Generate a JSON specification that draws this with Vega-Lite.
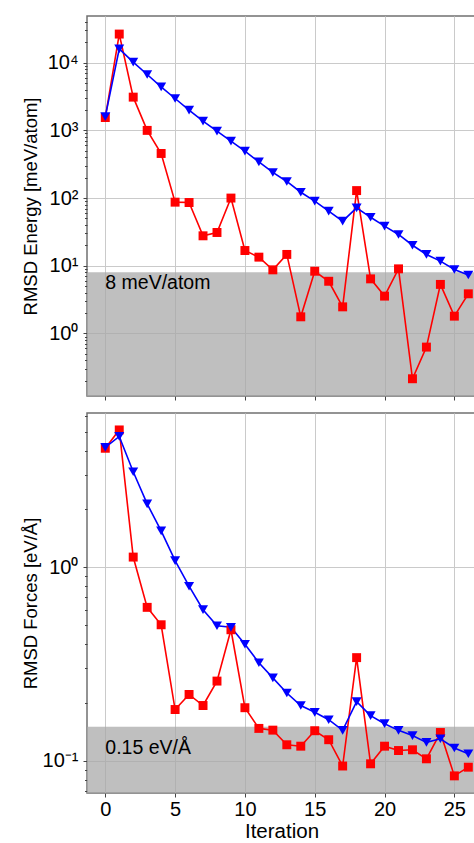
{
  "$schema": "https://vega.github.io/schema/vega-lite/v6.json",
  "padding": {"left": 20, "top": 15, "right": 0, "bottom": 0},
  "spacing": 10,
  "config": {
    "font": "Liberation Sans",
    "view": {"stroke": "#707070", "strokeWidth": 1.5},
    "axis": {
      "domain": false,
      "gridColor": "#cacaca",
      "gridWidth": 1,
      "tickColor": "#444444",
      "labelFont": "Liberation Sans",
      "labelFontSize": 20,
      "labelColor": "#000000",
      "titleFont": "Liberation Sans",
      "titleFontSize": 18.5,
      "titleFontWeight": "normal",
      "titleColor": "#000000"
    }
  },
  "datasets": {
    "thresholds": [
      {"panel": "energy", "threshold": 8, "label": "8 meV/atom"},
      {"panel": "forces", "threshold": 0.15, "label": "0.15 eV/Å"}
    ],
    "points": [
      {"panel": "energy", "series": "A", "iteration": 0, "value": 1550},
      {"panel": "energy", "series": "A", "iteration": 1, "value": 26500},
      {"panel": "energy", "series": "A", "iteration": 2, "value": 3100},
      {"panel": "energy", "series": "A", "iteration": 3, "value": 1000},
      {"panel": "energy", "series": "A", "iteration": 4, "value": 456},
      {"panel": "energy", "series": "A", "iteration": 5, "value": 87},
      {"panel": "energy", "series": "A", "iteration": 6, "value": 86},
      {"panel": "energy", "series": "A", "iteration": 7, "value": 27.7},
      {"panel": "energy", "series": "A", "iteration": 8, "value": 31},
      {"panel": "energy", "series": "A", "iteration": 9, "value": 100},
      {"panel": "energy", "series": "A", "iteration": 10, "value": 16.8},
      {"panel": "energy", "series": "A", "iteration": 11, "value": 13.4},
      {"panel": "energy", "series": "A", "iteration": 12, "value": 8.7},
      {"panel": "energy", "series": "A", "iteration": 13, "value": 14.7},
      {"panel": "energy", "series": "A", "iteration": 14, "value": 1.76},
      {"panel": "energy", "series": "A", "iteration": 15, "value": 8.3},
      {"panel": "energy", "series": "A", "iteration": 16, "value": 5.9},
      {"panel": "energy", "series": "A", "iteration": 17, "value": 2.47},
      {"panel": "energy", "series": "A", "iteration": 18, "value": 129},
      {"panel": "energy", "series": "A", "iteration": 19, "value": 6.4},
      {"panel": "energy", "series": "A", "iteration": 20, "value": 3.56},
      {"panel": "energy", "series": "A", "iteration": 21, "value": 9.0},
      {"panel": "energy", "series": "A", "iteration": 22, "value": 0.214},
      {"panel": "energy", "series": "A", "iteration": 23, "value": 0.628},
      {"panel": "energy", "series": "A", "iteration": 24, "value": 5.3},
      {"panel": "energy", "series": "A", "iteration": 25, "value": 1.8},
      {"panel": "energy", "series": "A", "iteration": 26, "value": 3.85},
      {"panel": "energy", "series": "B", "iteration": 0, "value": 1600},
      {"panel": "energy", "series": "B", "iteration": 1, "value": 16000},
      {"panel": "energy", "series": "B", "iteration": 2, "value": 10200},
      {"panel": "energy", "series": "B", "iteration": 3, "value": 6700},
      {"panel": "energy", "series": "B", "iteration": 4, "value": 4400},
      {"panel": "energy", "series": "B", "iteration": 5, "value": 2960},
      {"panel": "energy", "series": "B", "iteration": 6, "value": 1990},
      {"panel": "energy", "series": "B", "iteration": 7, "value": 1370},
      {"panel": "energy", "series": "B", "iteration": 8, "value": 973},
      {"panel": "energy", "series": "B", "iteration": 9, "value": 693},
      {"panel": "energy", "series": "B", "iteration": 10, "value": 493},
      {"panel": "energy", "series": "B", "iteration": 11, "value": 343},
      {"panel": "energy", "series": "B", "iteration": 12, "value": 239},
      {"panel": "energy", "series": "B", "iteration": 13, "value": 176},
      {"panel": "energy", "series": "B", "iteration": 14, "value": 122},
      {"panel": "energy", "series": "B", "iteration": 15, "value": 90},
      {"panel": "energy", "series": "B", "iteration": 16, "value": 64},
      {"panel": "energy", "series": "B", "iteration": 17, "value": 45.6},
      {"panel": "energy", "series": "B", "iteration": 18, "value": 71.6},
      {"panel": "energy", "series": "B", "iteration": 19, "value": 52},
      {"panel": "energy", "series": "B", "iteration": 20, "value": 38.5},
      {"panel": "energy", "series": "B", "iteration": 21, "value": 29},
      {"panel": "energy", "series": "B", "iteration": 22, "value": 20.1},
      {"panel": "energy", "series": "B", "iteration": 23, "value": 14.7},
      {"panel": "energy", "series": "B", "iteration": 24, "value": 11.7},
      {"panel": "energy", "series": "B", "iteration": 25, "value": 8.8},
      {"panel": "energy", "series": "B", "iteration": 26, "value": 7.3},
      {"panel": "forces", "series": "A", "iteration": 0, "value": 4.11},
      {"panel": "forces", "series": "A", "iteration": 1, "value": 5.11},
      {"panel": "forces", "series": "A", "iteration": 2, "value": 1.127},
      {"panel": "forces", "series": "A", "iteration": 3, "value": 0.62},
      {"panel": "forces", "series": "A", "iteration": 4, "value": 0.504},
      {"panel": "forces", "series": "A", "iteration": 5, "value": 0.184},
      {"panel": "forces", "series": "A", "iteration": 6, "value": 0.22},
      {"panel": "forces", "series": "A", "iteration": 7, "value": 0.193},
      {"panel": "forces", "series": "A", "iteration": 8, "value": 0.258},
      {"panel": "forces", "series": "A", "iteration": 9, "value": 0.475},
      {"panel": "forces", "series": "A", "iteration": 10, "value": 0.188},
      {"panel": "forces", "series": "A", "iteration": 11, "value": 0.147},
      {"panel": "forces", "series": "A", "iteration": 12, "value": 0.144},
      {"panel": "forces", "series": "A", "iteration": 13, "value": 0.121},
      {"panel": "forces", "series": "A", "iteration": 14, "value": 0.119},
      {"panel": "forces", "series": "A", "iteration": 15, "value": 0.143},
      {"panel": "forces", "series": "A", "iteration": 16, "value": 0.1285},
      {"panel": "forces", "series": "A", "iteration": 17, "value": 0.094},
      {"panel": "forces", "series": "A", "iteration": 18, "value": 0.341},
      {"panel": "forces", "series": "A", "iteration": 19, "value": 0.0965},
      {"panel": "forces", "series": "A", "iteration": 20, "value": 0.119},
      {"panel": "forces", "series": "A", "iteration": 21, "value": 0.113},
      {"panel": "forces", "series": "A", "iteration": 22, "value": 0.114},
      {"panel": "forces", "series": "A", "iteration": 23, "value": 0.1024},
      {"panel": "forces", "series": "A", "iteration": 24, "value": 0.14},
      {"panel": "forces", "series": "A", "iteration": 25, "value": 0.0836},
      {"panel": "forces", "series": "A", "iteration": 26, "value": 0.0927},
      {"panel": "forces", "series": "B", "iteration": 0, "value": 4.15},
      {"panel": "forces", "series": "B", "iteration": 1, "value": 4.73},
      {"panel": "forces", "series": "B", "iteration": 2, "value": 3.11},
      {"panel": "forces", "series": "B", "iteration": 3, "value": 2.12},
      {"panel": "forces", "series": "B", "iteration": 4, "value": 1.54},
      {"panel": "forces", "series": "B", "iteration": 5, "value": 1.08},
      {"panel": "forces", "series": "B", "iteration": 6, "value": 0.797},
      {"panel": "forces", "series": "B", "iteration": 7, "value": 0.603},
      {"panel": "forces", "series": "B", "iteration": 8, "value": 0.498},
      {"panel": "forces", "series": "B", "iteration": 9, "value": 0.489},
      {"panel": "forces", "series": "B", "iteration": 10, "value": 0.4},
      {"panel": "forces", "series": "B", "iteration": 11, "value": 0.321},
      {"panel": "forces", "series": "B", "iteration": 12, "value": 0.268},
      {"panel": "forces", "series": "B", "iteration": 13, "value": 0.224},
      {"panel": "forces", "series": "B", "iteration": 14, "value": 0.193},
      {"panel": "forces", "series": "B", "iteration": 15, "value": 0.178},
      {"panel": "forces", "series": "B", "iteration": 16, "value": 0.163},
      {"panel": "forces", "series": "B", "iteration": 17, "value": 0.1436},
      {"panel": "forces", "series": "B", "iteration": 18, "value": 0.202},
      {"panel": "forces", "series": "B", "iteration": 19, "value": 0.171},
      {"panel": "forces", "series": "B", "iteration": 20, "value": 0.1555},
      {"panel": "forces", "series": "B", "iteration": 21, "value": 0.1436},
      {"panel": "forces", "series": "B", "iteration": 22, "value": 0.135},
      {"panel": "forces", "series": "B", "iteration": 23, "value": 0.1245},
      {"panel": "forces", "series": "B", "iteration": 24, "value": 0.13},
      {"panel": "forces", "series": "B", "iteration": 25, "value": 0.1164},
      {"panel": "forces", "series": "B", "iteration": 26, "value": 0.1087}
    ]
  },
  "vconcat": [
    {
      "width": 389,
      "height": 380,
      "layer": [
        {
          "data": {"name": "thresholds"},
          "transform": [{"filter": "datum.panel == 'energy'"}],
          "mark": {"type": "rect", "fill": "#a7a7a7", "opacity": 0.73, "clip": true},
          "encoding": {
            "x": {"datum": -1.31, "type": "quantitative"},
            "x2": {"datum": 26.55},
            "y": {"field": "threshold", "type": "quantitative"},
            "y2": {"datum": 0.119}
          }
        },
        {
          "data": {"name": "thresholds"},
          "transform": [{"filter": "datum.panel == 'energy'"}],
          "mark": {"type": "text", "align": "left", "baseline": "middle", "fontSize": 19.5, "font": "Liberation Sans", "color": "#000000"},
          "encoding": {
            "x": {"datum": 0, "type": "quantitative"},
            "y": {"datum": 5.5, "type": "quantitative"},
            "text": {"field": "label"}
          }
        },
        {
          "data": {"name": "points"},
          "transform": [{"filter": "datum.panel == 'energy'"}],
          "mark": {"type": "line", "strokeWidth": 1.6, "clip": true},
          "encoding": {
            "x": {
              "field": "iteration", "type": "quantitative",
              "scale": {"domain": [-1.31, 26.55], "nice": false, "zero": false},
              "axis": {"values": [0, 5, 10, 15, 20, 25], "labels": false, "title": null, "tickSize": 4, "grid": true, "minExtent": 4, "maxExtent": 4}
            },
            "y": {
              "field": "value", "type": "quantitative",
              "scale": {"type": "log", "domain": [0.119, 49000], "nice": false},
              "axis": {
                "title": "RMSD Energy [meV/atom]",
                "values": [0.2, 0.3, 0.4, 0.5, 0.6, 0.7, 0.8, 0.9, 1, 2, 3, 4, 5, 6, 7, 8, 9, 10, 20, 30, 40, 50, 60, 70, 80, 90, 100, 200, 300, 400, 500, 600, 700, 800, 900, 1000, 2000, 3000, 4000, 5000, 6000, 7000, 8000, 9000, 10000, 20000, 30000, 40000],
                "labelOverlap": false,
                "labelPadding": 5,
                "labelExpr": "abs(log(datum.value)/LN10 - round(log(datum.value)/LN10)) < 0.001 ? '10' + (round(log(datum.value)/LN10) < 0 ? '⁻' + substring('⁰¹²³⁴⁵⁶⁷⁸⁹', -round(log(datum.value)/LN10), 1 - round(log(datum.value)/LN10)) : substring('⁰¹²³⁴⁵⁶⁷⁸⁹', round(log(datum.value)/LN10), 1 + round(log(datum.value)/LN10))) : ''",
                "labelFontSize": {"condition": {"test": "abs(log(datum.value)/LN10 - round(log(datum.value)/LN10)) < 0.001", "value": 20}, "value": 0},
                "tickSize": {"condition": {"test": "abs(log(datum.value)/LN10 - round(log(datum.value)/LN10)) < 0.001", "value": 4}, "value": 2.5},
                "gridOpacity": {"condition": {"test": "abs(log(datum.value)/LN10 - round(log(datum.value)/LN10)) < 0.001", "value": 1}, "value": 0},
                "minExtent": 42,
                "maxExtent": 42,
                "titlePadding": 4.5
              }
            },
            "color": {"field": "series", "type": "nominal", "scale": {"domain": ["A", "B"], "range": ["#ff0000", "#0000ff"]}, "legend": null}
          }
        },
        {
          "data": {"name": "points"},
          "transform": [{"filter": "datum.panel == 'energy' && datum.series == 'A'"}],
          "mark": {"type": "point", "shape": "square", "filled": true, "opacity": 1, "size": 80, "color": "#ff0000", "clip": true},
          "encoding": {
            "x": {"field": "iteration", "type": "quantitative"},
            "y": {"field": "value", "type": "quantitative"}
          }
        },
        {
          "data": {"name": "points"},
          "transform": [{"filter": "datum.panel == 'energy' && datum.series == 'B'"}],
          "mark": {"type": "point", "shape": "triangle-down", "filled": true, "opacity": 1, "size": 100, "color": "#0000ff", "clip": true},
          "encoding": {
            "x": {"field": "iteration", "type": "quantitative"},
            "y": {"field": "value", "type": "quantitative"}
          }
        }
      ]
    },
    {
      "width": 389,
      "height": 380,
      "layer": [
        {
          "data": {"name": "thresholds"},
          "transform": [{"filter": "datum.panel == 'forces'"}],
          "mark": {"type": "rect", "fill": "#a7a7a7", "opacity": 0.73, "clip": true},
          "encoding": {
            "x": {"datum": -1.31, "type": "quantitative"},
            "x2": {"datum": 26.55},
            "y": {"field": "threshold", "type": "quantitative"},
            "y2": {"datum": 0.0682}
          }
        },
        {
          "data": {"name": "thresholds"},
          "transform": [{"filter": "datum.panel == 'forces'"}],
          "mark": {"type": "text", "align": "left", "baseline": "middle", "fontSize": 19.5, "font": "Liberation Sans", "color": "#000000"},
          "encoding": {
            "x": {"datum": 0, "type": "quantitative"},
            "y": {"datum": 0.1164, "type": "quantitative"},
            "text": {"field": "label"}
          }
        },
        {
          "data": {"name": "points"},
          "transform": [{"filter": "datum.panel == 'forces'"}],
          "mark": {"type": "line", "strokeWidth": 1.6, "clip": true},
          "encoding": {
            "x": {
              "field": "iteration", "type": "quantitative",
              "scale": {"domain": [-1.31, 26.55], "nice": false, "zero": false},
              "axis": {"values": [0, 5, 10, 15, 20, 25], "title": "Iteration", "titleFontSize": 20.5, "tickSize": 4, "grid": true, "labelPadding": 2, "titlePadding": 2, "labelFlush": false}
            },
            "y": {
              "field": "value", "type": "quantitative",
              "scale": {"type": "log", "domain": [0.0682, 6.25], "nice": false},
              "axis": {
                "title": "RMSD Forces [eV/Å]",
                "values": [0.07, 0.08, 0.09, 0.1, 0.2, 0.3, 0.4, 0.5, 0.6, 0.7, 0.8, 0.9, 1, 2, 3, 4, 5, 6],
                "labelOverlap": false,
                "labelPadding": 5,
                "labelExpr": "abs(log(datum.value)/LN10 - round(log(datum.value)/LN10)) < 0.001 ? '10' + (round(log(datum.value)/LN10) < 0 ? '⁻' + substring('⁰¹²³⁴⁵⁶⁷⁸⁹', -round(log(datum.value)/LN10), 1 - round(log(datum.value)/LN10)) : substring('⁰¹²³⁴⁵⁶⁷⁸⁹', round(log(datum.value)/LN10), 1 + round(log(datum.value)/LN10))) : ''",
                "labelFontSize": {"condition": {"test": "abs(log(datum.value)/LN10 - round(log(datum.value)/LN10)) < 0.001", "value": 20}, "value": 0},
                "tickSize": {"condition": {"test": "abs(log(datum.value)/LN10 - round(log(datum.value)/LN10)) < 0.001", "value": 4}, "value": 2.5},
                "gridOpacity": {"condition": {"test": "abs(log(datum.value)/LN10 - round(log(datum.value)/LN10)) < 0.001", "value": 1}, "value": 0},
                "minExtent": 42,
                "maxExtent": 42,
                "titlePadding": 4.5
              }
            },
            "color": {"field": "series", "type": "nominal", "scale": {"domain": ["A", "B"], "range": ["#ff0000", "#0000ff"]}, "legend": null}
          }
        },
        {
          "data": {"name": "points"},
          "transform": [{"filter": "datum.panel == 'forces' && datum.series == 'A'"}],
          "mark": {"type": "point", "shape": "square", "filled": true, "opacity": 1, "size": 80, "color": "#ff0000", "clip": true},
          "encoding": {
            "x": {"field": "iteration", "type": "quantitative"},
            "y": {"field": "value", "type": "quantitative"}
          }
        },
        {
          "data": {"name": "points"},
          "transform": [{"filter": "datum.panel == 'forces' && datum.series == 'B'"}],
          "mark": {"type": "point", "shape": "triangle-down", "filled": true, "opacity": 1, "size": 100, "color": "#0000ff", "clip": true},
          "encoding": {
            "x": {"field": "iteration", "type": "quantitative"},
            "y": {"field": "value", "type": "quantitative"}
          }
        }
      ]
    }
  ]
}
